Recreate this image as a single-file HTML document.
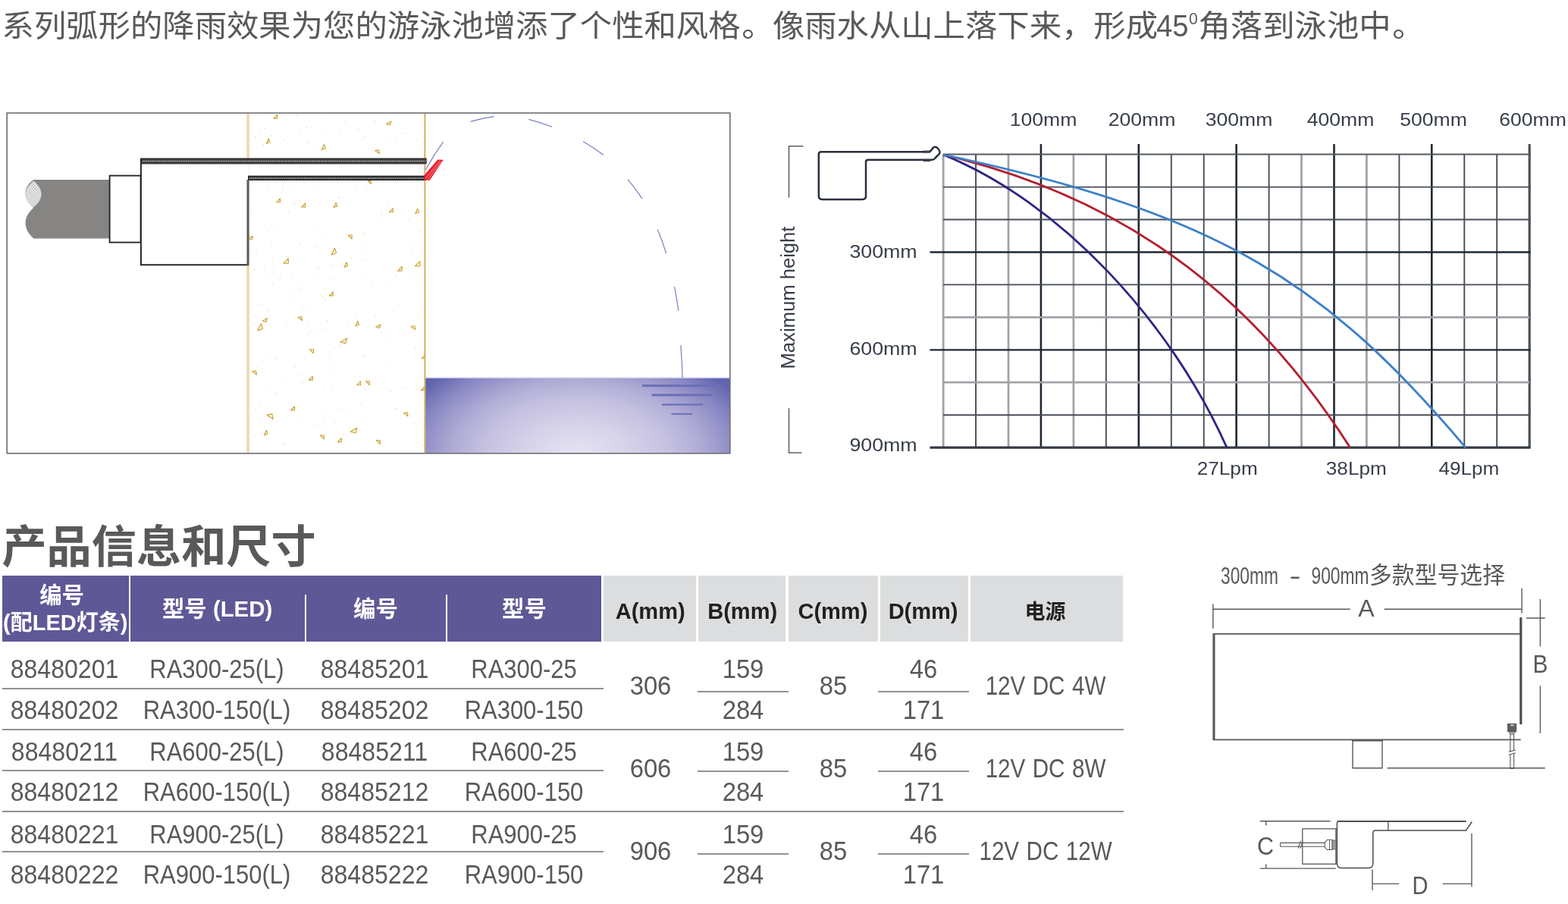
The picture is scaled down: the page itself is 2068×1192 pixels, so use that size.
<!DOCTYPE html>
<html lang="zh-CN">
<head>
<meta charset="utf-8">
<title>产品信息和尺寸</title>
<style>
html,body{margin:0;padding:0;background:#fff;}
body{width:2068px;height:1192px;position:relative;overflow:hidden;font-family:"Liberation Sans","Noto Sans CJK SC",sans-serif;color:#58595b;}
.abs{position:absolute;white-space:nowrap;}
#intro{left:2.6px;top:3.8px;font-size:42.35px;line-height:62px;transform:scaleY(0.945);transform-origin:0 50%;}
#intro .n{display:inline-block;transform:scaleX(0.905);transform-origin:0 50%;margin-left:-2.4px;margin-right:-4.6px;}
#intro .p{position:relative;left:1.7px;}
#intro sup{font-size:24px;line-height:0;vertical-align:baseline;position:relative;top:-16.6px;margin:0 -0.6px 0 0.6px;display:inline-block;transform:scaleX(0.88);transform-origin:0 50%;}
#title{left:2.4px;top:679.5px;font-size:59.2px;line-height:84px;font-weight:bold;}
#art{position:absolute;left:0;top:0;width:2068px;height:1192px;}
.bg{position:absolute;top:759px;height:87px;}
.hp{background:#5f5896;}
.hg{background:#dcddde;}
.ht{position:absolute;height:40px;line-height:40px;width:240px;text-align:center;font-weight:bold;white-space:nowrap;}
.ht.w{color:#fff;font-size:29.4px;}
.ht.k{color:#231f20;font-size:29px;}
.sep{position:absolute;background:#fff;width:2px;}
.c{position:absolute;height:40px;line-height:40px;width:240px;font-size:34.3px;text-align:center;white-space:nowrap;transform:scaleX(0.935);}
.c.m{transform:scaleX(0.903);}
.c.s{transform:scaleX(0.955);}
.c.p{transform:scaleX(0.862);word-spacing:1.5px;}
.ln{position:absolute;background:#8f9194;}
</style>
</head>
<body>
<div id="intro" class="abs">系列弧形的降雨效果为您的游泳池增添了个性和风格<span class="p">。</span>像雨水从山上落下来，形成<span class="n">45</span><sup>0</sup>角落到泳池中<span class="p">。</span></div>
<svg id="art" viewBox="0 0 2068 1192" width="2068" height="1192">
<defs>
<radialGradient id="wg" gradientUnits="userSpaceOnUse" cx="761" cy="600" r="249" gradientTransform="translate(761 600) scale(1 0.6) translate(-761 -600)">
<stop offset="0" stop-color="#e6e4f3"/><stop offset="0.267" stop-color="#d6d3ea"/><stop offset="0.5" stop-color="#c4c0e0"/><stop offset="0.667" stop-color="#aeaad5"/><stop offset="0.85" stop-color="#8a88c4"/><stop offset="1" stop-color="#6064af"/>
</radialGradient>
<pattern id="ht" width="2.6" height="2.6" patternUnits="userSpaceOnUse" patternTransform="rotate(45)"><rect width="2.6" height="2.6" fill="#f6f6f6"/><rect width="0.9" height="2.6" fill="#c4c4c4"/><rect width="2.6" height="0.9" fill="#c4c4c4"/></pattern>
</defs>
<g id="install">
<rect x="560" y="498" width="403" height="100" fill="url(#wg)"/>
<rect x="560" y="497.2" width="403" height="1.6" fill="#dcdaf0"/>
<path d="M344.4 402.6h.01M474.2 410.4h.01M462.0 327.5h.01M401.0 514.2h.01M354.4 405.2h.01M415.5 394.7h.01M432.9 422.0h.01M365.5 368.6h.01M462.6 354.0h.01M369.1 203.1h.01M371.0 254.2h.01M333.7 520.8h.01M345.1 181.0h.01M342.9 151.1h.01M467.7 362.0h.01M440.0 289.8h.01M413.1 458.1h.01M405.8 250.3h.01M442.9 476.3h.01M510.4 361.1h.01M547.8 313.3h.01M501.3 363.7h.01M429.5 433.9h.01M436.1 481.8h.01M536.4 509.9h.01M478.5 385.3h.01M429.5 538.9h.01M454.6 522.2h.01M446.9 539.4h.01M469.1 496.3h.01M448.7 398.2h.01M531.5 176.3h.01M433.6 163.4h.01M540.5 548.3h.01M358.6 347.7h.01M483.4 341.6h.01M483.0 499.9h.01M426.6 309.7h.01M549.1 201.2h.01M392.7 554.1h.01M460.5 462.7h.01M394.3 506.8h.01M427.5 183.2h.01M475.0 507.7h.01M385.1 199.7h.01M483.6 271.4h.01M556.8 167.4h.01M497.4 396.2h.01M551.3 288.0h.01M555.6 587.9h.01M397.5 355.5h.01M507.2 191.4h.01M336.1 286.4h.01M350.2 577.1h.01M501.9 404.0h.01M486.0 459.5h.01M542.7 550.5h.01M384.3 487.6h.01M476.9 185.5h.01M400.1 403.7h.01M418.8 558.9h.01M450.0 575.0h.01M532.3 464.0h.01M501.4 524.4h.01M524.9 275.9h.01M520.5 278.1h.01M455.7 471.2h.01M557.2 351.2h.01M455.3 259.6h.01M408.6 191.5h.01M414.6 511.2h.01M417.9 482.9h.01M416.5 301.5h.01M510.4 528.6h.01M523.7 539.4h.01M550.8 369.0h.01M525.2 583.6h.01M508.8 250.6h.01M350.3 496.7h.01M508.6 254.5h.01M477.5 286.2h.01M489.6 200.9h.01M399.2 570.9h.01M394.2 291.8h.01M438.9 255.5h.01M531.9 439.0h.01M551.2 289.7h.01M364.2 326.1h.01M497.3 594.9h.01M543.4 483.1h.01M554.6 347.9h.01M350.9 464.8h.01M415.6 560.2h.01M505.0 169.1h.01M436.3 508.5h.01M402.8 273.7h.01M545.9 180.1h.01M538.4 513.6h.01M501.9 261.1h.01M404.9 587.2h.01M555.2 268.9h.01M387.2 260.2h.01M394.9 554.9h.01M405.1 327.3h.01M446.2 254.0h.01M479.3 592.0h.01M332.0 543.9h.01M521.8 557.9h.01M530.1 254.6h.01M506.9 446.8h.01M339.7 476.8h.01M455.4 179.2h.01M511.7 446.5h.01M476.1 191.6h.01M482.6 336.9h.01M377.2 153.6h.01M462.2 313.3h.01M360.5 174.0h.01M476.4 555.9h.01M395.3 382.9h.01M355.7 369.3h.01M399.5 523.6h.01M552.4 365.8h.01M468.9 434.2h.01M536.3 427.1h.01M551.3 514.0h.01M339.7 524.0h.01M414.4 375.1h.01M508.1 354.9h.01M515.0 329.2h.01M360.2 342.6h.01M340.3 434.2h.01M534.1 441.5h.01M497.2 513.7h.01M548.2 558.6h.01M486.8 471.9h.01M445.0 560.4h.01M465.4 425.1h.01M403.4 167.4h.01M485.3 549.5h.01M457.0 409.1h.01M406.1 187.2h.01" fill="none" stroke="#e3c77a" stroke-width="1.5" stroke-linecap="round" opacity="0.3"/>
<path d="M379.7 189.2h.01M346.9 191.4h.01M341.6 533.0h.01M459.1 426.5h.01M485.5 341.3h.01M436.7 561.9h.01M508.0 187.4h.01M357.8 337.1h.01M461.1 540.6h.01M408.2 306.8h.01M345.8 476.4h.01M477.9 592.9h.01M409.8 569.6h.01M387.2 325.0h.01M425.3 310.7h.01M390.6 152.8h.01M452.4 422.4h.01M512.1 325.6h.01M420.5 365.3h.01M416.4 433.3h.01M523.7 592.9h.01M354.2 303.5h.01M527.0 460.8h.01M448.7 555.2h.01M488.2 576.6h.01M514.5 472.8h.01M354.2 360.2h.01M512.8 583.4h.01M469.8 416.2h.01M385.6 412.0h.01M537.6 308.4h.01M393.9 377.1h.01M530.0 570.3h.01M544.3 437.3h.01M363.5 543.9h.01M380.8 574.9h.01M429.0 380.4h.01M435.1 463.9h.01M551.6 197.6h.01M426.9 556.6h.01M469.1 250.0h.01M526.8 352.9h.01M556.7 336.9h.01M447.7 260.3h.01M355.1 515.4h.01M480.0 393.9h.01M334.2 429.3h.01M392.1 152.6h.01M404.4 166.3h.01M407.1 188.3h.01M363.7 412.1h.01M419.4 296.1h.01M412.9 197.7h.01M451.6 259.8h.01M438.6 511.1h.01M498.9 585.2h.01M353.6 247.9h.01M397.0 380.9h.01M376.2 586.3h.01M550.8 351.0h.01M468.0 432.1h.01M444.0 540.9h.01M336.6 152.6h.01M362.9 304.1h.01M358.4 298.4h.01M333.7 480.3h.01M348.3 562.8h.01M402.6 495.1h.01M501.9 437.8h.01M359.9 361.1h.01M367.7 243.5h.01M455.9 352.6h.01M532.4 484.6h.01M444.1 406.6h.01M392.5 261.6h.01M477.6 343.2h.01M359.9 340.2h.01M490.1 527.7h.01M473.2 386.1h.01M331.3 390.2h.01M400.8 160.7h.01M389.4 448.0h.01M382.5 166.2h.01M494.1 312.2h.01M522.8 181.0h.01M383.4 249.5h.01M373.5 250.4h.01M336.4 416.3h.01M342.8 177.8h.01M433.1 467.9h.01M401.8 473.8h.01M331.7 275.5h.01M549.9 243.3h.01M505.5 288.4h.01M404.4 479.1h.01M355.3 469.4h.01M547.5 323.0h.01M506.4 421.2h.01M503.4 498.0h.01M397.7 403.3h.01M388.7 266.8h.01M527.6 350.9h.01M410.4 167.7h.01M363.1 241.8h.01M515.9 515.4h.01M401.9 241.5h.01M421.3 271.7h.01M401.9 403.1h.01M425.0 159.1h.01M477.3 324.9h.01M427.2 516.1h.01M422.8 527.6h.01M372.5 248.1h.01M507.6 439.8h.01M336.3 426.4h.01M360.9 545.1h.01M345.9 307.1h.01M367.0 550.0h.01M536.4 354.1h.01M422.6 434.3h.01M342.0 532.9h.01M388.2 389.4h.01M498.5 316.3h.01M555.8 407.9h.01" fill="none" stroke="#e3c77a" stroke-width="1.5" stroke-linecap="round" opacity="0.45"/>
<path d="M478.8 183.2h.01M352.4 410.3h.01M426.1 391.6h.01M399.0 504.5h.01M450.2 540.4h.01M549.4 185.5h.01M545.4 362.0h.01M395.6 322.7h.01M380.5 278.9h.01M349.3 350.9h.01M428.7 395.8h.01M547.4 458.3h.01M546.7 442.5h.01M343.3 551.3h.01M431.0 199.9h.01M452.8 573.3h.01M336.8 540.1h.01M439.6 459.0h.01M336.2 574.2h.01M503.1 283.6h.01M506.2 388.0h.01M514.0 515.2h.01M377.4 428.7h.01M521.8 364.4h.01M409.1 437.2h.01M358.2 323.9h.01M480.2 306.9h.01M455.5 160.5h.01M337.4 245.7h.01M481.4 513.7h.01M426.5 559.4h.01M370.1 361.7h.01M358.3 178.5h.01M393.9 494.7h.01M431.6 423.6h.01M446.3 261.2h.01M482.6 250.6h.01M494.9 159.7h.01M406.3 428.6h.01M423.2 389.8h.01M472.1 170.2h.01M542.6 430.8h.01M503.4 280.0h.01M554.0 303.5h.01M428.8 175.7h.01M522.0 538.4h.01M551.4 417.5h.01M549.3 583.8h.01M445.1 240.4h.01M480.3 469.6h.01M364.9 473.2h.01M363.9 518.1h.01M533.5 430.2h.01M490.1 376.0h.01M518.6 410.9h.01M350.3 169.6h.01M457.8 430.4h.01M331.8 506.0h.01M480.7 180.4h.01M522.9 185.1h.01M396.2 171.8h.01M406.3 440.9h.01M440.5 367.2h.01M436.8 492.4h.01M335.0 355.2h.01M347.9 191.2h.01M485.7 331.4h.01M415.5 325.8h.01M387.6 269.2h.01M531.7 512.3h.01M421.8 540.7h.01M542.9 333.8h.01M441.2 556.8h.01M395.0 264.8h.01M552.6 266.8h.01M385.2 366.0h.01M359.6 375.0h.01M419.9 563.4h.01M449.6 454.5h.01M419.1 250.5h.01M337.6 334.3h.01M376.0 505.7h.01M355.7 428.5h.01M537.7 176.1h.01M426.4 544.9h.01M337.9 333.8h.01M389.3 483.5h.01M408.0 272.2h.01M340.9 483.2h.01M494.8 416.0h.01M513.2 479.6h.01M526.5 356.0h.01M478.4 365.4h.01M378.3 338.4h.01M361.2 356.1h.01M384.3 390.7h.01M374.0 584.0h.01M375.1 184.4h.01M355.0 416.3h.01M461.0 563.6h.01M476.4 532.2h.01M340.3 401.2h.01M419.5 353.8h.01M463.3 340.5h.01M436.6 349.8h.01M513.1 375.4h.01M540.3 290.6h.01M447.1 175.1h.01M336.9 180.5h.01M510.8 268.6h.01" fill="none" stroke="#e3c77a" stroke-width="1.5" stroke-linecap="round" opacity="0.65"/>
<path d="M-2.5 2.5H2.5V-2.5Z" transform="translate(363.3 153.6) rotate(0)" fill="#fbf5e0" stroke="#c9a233" stroke-width="1.1" stroke-linejoin="round"/>
<path d="M-2.5 2.5H2.5V-2.5Z" transform="translate(352.8 186) rotate(-20)" fill="#fbf5e0" stroke="#c9a233" stroke-width="1.1" stroke-linejoin="round"/>
<path d="M-2.8 2.8H2.8V-2.8Z" transform="translate(425.8 194) rotate(-20)" fill="#fbf5e0" stroke="#c9a233" stroke-width="1.1" stroke-linejoin="round"/>
<path d="M-2.5 2.5H2.5V-2.5Z" transform="translate(367 264.3) rotate(0)" fill="#fbf5e0" stroke="#c9a233" stroke-width="1.1" stroke-linejoin="round"/>
<path d="M-2.5 2.5H2.5V-2.5Z" transform="translate(400.2 270.4) rotate(0)" fill="#fbf5e0" stroke="#c9a233" stroke-width="1.1" stroke-linejoin="round"/>
<path d="M-2.5 2.5H2.5V-2.5Z" transform="translate(441.6 270.4) rotate(-20)" fill="#fbf5e0" stroke="#c9a233" stroke-width="1.1" stroke-linejoin="round"/>
<path d="M-2.5 2.5H2.5V-2.5Z" transform="translate(330.4 313) rotate(15)" fill="#fbf5e0" stroke="#c9a233" stroke-width="1.1" stroke-linejoin="round"/>
<path d="M-2.5 2.5H2.5V-2.5Z" transform="translate(461.6 312.5) rotate(-90)" fill="#fbf5e0" stroke="#c9a233" stroke-width="1.1" stroke-linejoin="round"/>
<path d="M-3.5 3.5H3.5V-3.5Z" transform="translate(439.2 331.5) rotate(-20)" fill="#fbf5e0" stroke="#c9a233" stroke-width="1.1" stroke-linejoin="round"/>
<path d="M-3.2 3.2H3.2V-3.2Z" transform="translate(377.1 344) rotate(0)" fill="#fbf5e0" stroke="#c9a233" stroke-width="1.1" stroke-linejoin="round"/>
<path d="M-2.5 2.5H2.5V-2.5Z" transform="translate(455.5 349) rotate(-20)" fill="#fbf5e0" stroke="#c9a233" stroke-width="1.1" stroke-linejoin="round"/>
<path d="M-2.5 2.5H2.5V-2.5Z" transform="translate(436.7 387.4) rotate(0)" fill="#fbf5e0" stroke="#c9a233" stroke-width="1.1" stroke-linejoin="round"/>
<path d="M-2.5 2.5H2.5V-2.5Z" transform="translate(497.6 200.6) rotate(-100)" fill="#fbf5e0" stroke="#c9a233" stroke-width="1.1" stroke-linejoin="round"/>
<path d="M-2.5 2.5H2.5V-2.5Z" transform="translate(512.8 161.6) rotate(15)" fill="#fbf5e0" stroke="#c9a233" stroke-width="1.1" stroke-linejoin="round"/>
<path d="M-2.5 2.5H2.5V-2.5Z" transform="translate(515.8 277.2) rotate(0)" fill="#fbf5e0" stroke="#c9a233" stroke-width="1.1" stroke-linejoin="round"/>
<path d="M-2.5 2.5H2.5V-2.5Z" transform="translate(549.3 278.4) rotate(-20)" fill="#fbf5e0" stroke="#c9a233" stroke-width="1.1" stroke-linejoin="round"/>
<path d="M-3.2 3.2H3.2V-3.2Z" transform="translate(550.6 347.8) rotate(0)" fill="#fbf5e0" stroke="#c9a233" stroke-width="1.1" stroke-linejoin="round"/>
<path d="M-2.8 2.8H2.8V-2.8Z" transform="translate(527.4 354.3) rotate(0)" fill="#fbf5e0" stroke="#c9a233" stroke-width="1.1" stroke-linejoin="round"/>
<path d="M-2.0 2.0H2.0V-2.0Z" transform="translate(487.3 240.5) rotate(-90)" fill="#fbf5e0" stroke="#c9a233" stroke-width="1.1" stroke-linejoin="round"/>
<path d="M-2.5 2.5H2.5V-2.5Z" transform="translate(349.4 421.3) rotate(15)" fill="#fbf5e0" stroke="#c9a233" stroke-width="1.1" stroke-linejoin="round"/>
<path d="M-3.5 3.5H3.5V-3.5Z" transform="translate(342.1 431.4) rotate(-20)" fill="#fbf5e0" stroke="#c9a233" stroke-width="1.1" stroke-linejoin="round"/>
<path d="M-2.5 2.5H2.5V-2.5Z" transform="translate(395.8 420.5) rotate(-100)" fill="#fbf5e0" stroke="#c9a233" stroke-width="1.1" stroke-linejoin="round"/>
<path d="M-2.5 2.5H2.5V-2.5Z" transform="translate(470.3 426.6) rotate(-20)" fill="#fbf5e0" stroke="#c9a233" stroke-width="1.1" stroke-linejoin="round"/>
<path d="M-2.5 2.5H2.5V-2.5Z" transform="translate(498.9 429.5) rotate(15)" fill="#fbf5e0" stroke="#c9a233" stroke-width="1.1" stroke-linejoin="round"/>
<path d="M-3.5 3.5H3.5V-3.5Z" transform="translate(453.3 448.4) rotate(15)" fill="#fbf5e0" stroke="#c9a233" stroke-width="1.1" stroke-linejoin="round"/>
<path d="M-2.5 2.5H2.5V-2.5Z" transform="translate(411 463.3) rotate(-90)" fill="#fbf5e0" stroke="#c9a233" stroke-width="1.1" stroke-linejoin="round"/>
<path d="M-2.5 2.5H2.5V-2.5Z" transform="translate(335.6 491.9) rotate(-100)" fill="#fbf5e0" stroke="#c9a233" stroke-width="1.1" stroke-linejoin="round"/>
<path d="M-2.5 2.5H2.5V-2.5Z" transform="translate(409.8 498.6) rotate(0)" fill="#fbf5e0" stroke="#c9a233" stroke-width="1.1" stroke-linejoin="round"/>
<path d="M-2.5 2.5H2.5V-2.5Z" transform="translate(473.2 505.2) rotate(0)" fill="#fbf5e0" stroke="#c9a233" stroke-width="1.1" stroke-linejoin="round"/>
<path d="M-2.5 2.5H2.5V-2.5Z" transform="translate(484.8 505.2) rotate(-90)" fill="#fbf5e0" stroke="#c9a233" stroke-width="1.1" stroke-linejoin="round"/>
<path d="M-2.5 2.5H2.5V-2.5Z" transform="translate(386.1 538.5) rotate(0)" fill="#fbf5e0" stroke="#c9a233" stroke-width="1.1" stroke-linejoin="round"/>
<path d="M-3.5 3.5H3.5V-3.5Z" transform="translate(356.1 549.9) rotate(-100)" fill="#fbf5e0" stroke="#c9a233" stroke-width="1.1" stroke-linejoin="round"/>
<path d="M-2.5 2.5H2.5V-2.5Z" transform="translate(349.9 570.5) rotate(-20)" fill="#fbf5e0" stroke="#c9a233" stroke-width="1.1" stroke-linejoin="round"/>
<path d="M-3.5 3.5H3.5V-3.5Z" transform="translate(466.6 566.8) rotate(15)" fill="#fbf5e0" stroke="#c9a233" stroke-width="1.1" stroke-linejoin="round"/>
<path d="M-2.5 2.5H2.5V-2.5Z" transform="translate(424.8 576.5) rotate(-90)" fill="#fbf5e0" stroke="#c9a233" stroke-width="1.1" stroke-linejoin="round"/>
<path d="M-2.5 2.5H2.5V-2.5Z" transform="translate(447.8 580.1) rotate(0)" fill="#fbf5e0" stroke="#c9a233" stroke-width="1.1" stroke-linejoin="round"/>
<path d="M-2.5 2.5H2.5V-2.5Z" transform="translate(498.9 583) rotate(-90)" fill="#fbf5e0" stroke="#c9a233" stroke-width="1.1" stroke-linejoin="round"/>
<path d="M-2.5 2.5H2.5V-2.5Z" transform="translate(544.8 432.6) rotate(-100)" fill="#fbf5e0" stroke="#c9a233" stroke-width="1.1" stroke-linejoin="round"/>
<path d="M-2.0 2.0H2.0V-2.0Z" transform="translate(557.9 470.8) rotate(0)" fill="#fbf5e0" stroke="#c9a233" stroke-width="1.1" stroke-linejoin="round"/>
<path d="M-2.0 2.0H2.0V-2.0Z" transform="translate(557.4 512.4) rotate(0)" fill="#fbf5e0" stroke="#c9a233" stroke-width="1.1" stroke-linejoin="round"/>
<path d="M-2.5 2.5H2.5V-2.5Z" transform="translate(535.1 546.8) rotate(-100)" fill="#fbf5e0" stroke="#c9a233" stroke-width="1.1" stroke-linejoin="round"/>
<rect x="325.3" y="149" width="3.6" height="449" fill="#eadbb0"/>
<rect x="559.4" y="149" width="2" height="449" fill="#d2b15f"/>
<path d="M144.5 237H44.5C38 241 33.6 248 33.6 255C33.6 263 39 269 44 274C39 279 33.6 285 33.6 294C33.6 302 38 309 44.5 314.5H144.5Z" fill="#868583"/>
<path d="M44.5 238.5C38.5 243 33.8 249.5 33.8 256C33.8 263 38.5 269 44 273.5C50 269 54.5 263 54.5 256C54.5 249 50 243 44.5 238.5Z" fill="url(#ht)"/>
<rect x="144.6" y="231.6" width="41" height="88" fill="#fff" stroke="#1f1f1f" stroke-width="1.8"/>
<path d="M185.6 209.5H562.5V216.5H328.5V232H560.5V238H328V349.3H185.6Z" fill="#fff"/>
<rect x="185" y="208.4" width="377.7" height="8" fill="#3a3a3a"/>
<line x1="188" y1="212.4" x2="561" y2="212.4" stroke="#dcdcdc" stroke-width="1.5" stroke-dasharray="1.3 1.1"/>
<rect x="327" y="231.6" width="233.5" height="6.4" fill="#2c2c2c"/>
<line x1="329" y1="235" x2="559" y2="235" stroke="#e6e6e6" stroke-width="1.4" stroke-dasharray="1.3 1.1"/>
<path d="M185.9 209V349.3H327.6" fill="none" stroke="#262626" stroke-width="2"/>
<path d="M327 349.8V237" fill="none" stroke="#5c5c5c" stroke-width="3"/>
<path d="M559.3 231.3L577.3 210.5L584.8 210.8L566.7 237.8L559.3 237.8Z" fill="#e8212e"/>
<path d="M561.6 235.4L580 212M564.4 236.4L582.6 212.4" stroke="#f9b4b7" stroke-width="0.8" fill="none"/>
<path d="M561.5 223.7Q571.8 204.6 584.6 187.2M620.6 160.4Q635.8 155.8 651.5 153.6M697.3 157.3Q713.1 161.3 728.2 167.2M769 186.4Q783.0 194.5 795.8 204.2M828 236.6Q838.3 248.8 847 262.1M867.3 302.7Q873.8 318.0 878.5 333.9M889.5 378.2Q892.7 393.9 894.8 409.8M897.8 455.1Q899.5 476.5 900.2 497.9" fill="none" stroke="#7780c2" stroke-width="1.2"/>
<rect x="847" y="507.1" width="105.7" height="3" fill="#6a6fb7"/>
<rect x="859.6" y="519.4" width="79.8" height="3" fill="#6a6fb7"/>
<rect x="872.9" y="532.4" width="53.9" height="2.2" fill="#6a6fb7"/>
<rect x="885.5" y="544.8" width="27.8" height="2" fill="#6a6fb7"/>
<rect x="9.2" y="149" width="953.6" height="448.8" fill="none" stroke="#6d6e70" stroke-width="1.6"/>
</g>
<g id="chart">
<line x1="1244.1" y1="203.6" x2="1244.1" y2="590.1" stroke="#a1a3a7" stroke-width="2.8"/>
<line x1="1287.0" y1="203.6" x2="1287.0" y2="590.1" stroke="#474c56" stroke-width="1.9"/>
<line x1="1330.0" y1="203.6" x2="1330.0" y2="590.1" stroke="#a1a3a7" stroke-width="2.8"/>
<line x1="1372.9" y1="190" x2="1372.9" y2="590.1" stroke="#1f2733" stroke-width="2.6"/>
<line x1="1415.9" y1="203.6" x2="1415.9" y2="590.1" stroke="#a1a3a7" stroke-width="2.8"/>
<line x1="1458.8" y1="203.6" x2="1458.8" y2="590.1" stroke="#474c56" stroke-width="1.9"/>
<line x1="1501.8" y1="190" x2="1501.8" y2="590.1" stroke="#1f2733" stroke-width="2.6"/>
<line x1="1544.8" y1="203.6" x2="1544.8" y2="590.1" stroke="#474c56" stroke-width="1.9"/>
<line x1="1587.7" y1="203.6" x2="1587.7" y2="590.1" stroke="#474c56" stroke-width="1.9"/>
<line x1="1630.6" y1="190" x2="1630.6" y2="590.1" stroke="#1f2733" stroke-width="2.6"/>
<line x1="1673.6" y1="203.6" x2="1673.6" y2="590.1" stroke="#474c56" stroke-width="1.9"/>
<line x1="1716.5" y1="203.6" x2="1716.5" y2="590.1" stroke="#a1a3a7" stroke-width="2.8"/>
<line x1="1759.5" y1="190" x2="1759.5" y2="590.1" stroke="#1f2733" stroke-width="2.6"/>
<line x1="1802.4" y1="203.6" x2="1802.4" y2="590.1" stroke="#a1a3a7" stroke-width="2.8"/>
<line x1="1845.4" y1="203.6" x2="1845.4" y2="590.1" stroke="#474c56" stroke-width="1.9"/>
<line x1="1888.3" y1="190" x2="1888.3" y2="590.1" stroke="#1f2733" stroke-width="2.6"/>
<line x1="1931.3" y1="203.6" x2="1931.3" y2="590.1" stroke="#474c56" stroke-width="1.9"/>
<line x1="1974.2" y1="203.6" x2="1974.2" y2="590.1" stroke="#474c56" stroke-width="1.9"/>
<line x1="2017.2" y1="190" x2="2017.2" y2="590.1" stroke="#4a505a" stroke-width="3.2"/>
<line x1="1244.1" y1="203.6" x2="2017.2" y2="203.6" stroke="#555960" stroke-width="2"/>
<line x1="1244.1" y1="246.6" x2="2017.2" y2="246.6" stroke="#474c56" stroke-width="1.9"/>
<line x1="1244.1" y1="289.5" x2="2017.2" y2="289.5" stroke="#474c56" stroke-width="1.9"/>
<line x1="1226.4" y1="332.5" x2="2018.5" y2="332.5" stroke="#1f2733" stroke-width="2.3"/>
<line x1="1244.1" y1="375.4" x2="2017.2" y2="375.4" stroke="#474c56" stroke-width="1.9"/>
<line x1="1244.1" y1="418.4" x2="2017.2" y2="418.4" stroke="#a1a3a7" stroke-width="2.8"/>
<line x1="1226.4" y1="461.3" x2="2018.5" y2="461.3" stroke="#1f2733" stroke-width="2.3"/>
<line x1="1244.1" y1="504.2" x2="2017.2" y2="504.2" stroke="#a1a3a7" stroke-width="2.8"/>
<line x1="1244.1" y1="547.2" x2="2017.2" y2="547.2" stroke="#474c56" stroke-width="1.9"/>
<line x1="1226.4" y1="590.1" x2="2018.5" y2="590.1" stroke="#343a44" stroke-width="3.2"/>
<path d="M1244 204C1396.9 265.5 1543.1 422.1 1618.1 590.3" fill="none" stroke="#2d2484" stroke-width="2.8"/>
<path d="M1244 204C1504.5 264.8 1666.5 411 1780.7 590.3" fill="none" stroke="#b21f2d" stroke-width="2.8"/>
<path d="M1244 204C1611.1 281.5 1752.5 376.5 1933.2 590.3" fill="none" stroke="#3c7fca" stroke-width="2.8"/>
<path d="M1217.6 200.3H1083Q1079.8 200.3 1079.8 203.5V258.2Q1079.8 262.9 1084.5 262.9H1137.3Q1142 262.9 1142 258.2V213.6Q1142 210.7 1145 210.7H1226C1229 210.8 1231 211.3 1233 209C1235 206.5 1237 205 1239 202.5C1240.5 200 1239 198 1236.8 195.5C1235 193.5 1232.5 193 1230.5 195C1228.5 197 1228 200 1225 200.3Z" fill="none" stroke="#2a303b" stroke-width="2.5" stroke-linejoin="round"/>
<path d="M1217.6 200H1226.5M1217.6 211.3H1227" fill="none" stroke="#3a3f48" stroke-width="3.2"/>
<path d="M1059.5 192.7H1040.5V260.5" fill="none" stroke="#5a5e66" stroke-width="1.5"/>
<path d="M1040.5 538.3V597H1057.4" fill="none" stroke="#5a5e66" stroke-width="1.5"/>
<text id="tx0" x="1331.7" y="165.7" textLength="88.6" lengthAdjust="spacingAndGlyphs" font-family="&quot;Liberation Sans&quot;, sans-serif" font-size="24.3" fill="#383e49" >100mm</text>
<text id="tx1" x="1461.7" y="165.7" textLength="88.6" lengthAdjust="spacingAndGlyphs" font-family="&quot;Liberation Sans&quot;, sans-serif" font-size="24.3" fill="#383e49" >200mm</text>
<text id="tx2" x="1589.7" y="165.7" textLength="88.6" lengthAdjust="spacingAndGlyphs" font-family="&quot;Liberation Sans&quot;, sans-serif" font-size="24.3" fill="#383e49" >300mm</text>
<text id="tx3" x="1723.7" y="165.7" textLength="88.6" lengthAdjust="spacingAndGlyphs" font-family="&quot;Liberation Sans&quot;, sans-serif" font-size="24.3" fill="#383e49" >400mm</text>
<text id="tx4" x="1846.3" y="165.7" textLength="88.6" lengthAdjust="spacingAndGlyphs" font-family="&quot;Liberation Sans&quot;, sans-serif" font-size="24.3" fill="#383e49" >500mm</text>
<text id="tx5" x="1977.2" y="165.7" textLength="88.6" lengthAdjust="spacingAndGlyphs" font-family="&quot;Liberation Sans&quot;, sans-serif" font-size="24.3" fill="#383e49" >600mm</text>
<text id="ty0" x="1120.4" y="340.2" textLength="89.3" lengthAdjust="spacingAndGlyphs" font-family="&quot;Liberation Sans&quot;, sans-serif" font-size="24.3" fill="#383e49" >300mm</text>
<text id="ty1" x="1120.4" y="467.5" textLength="89.3" lengthAdjust="spacingAndGlyphs" font-family="&quot;Liberation Sans&quot;, sans-serif" font-size="24.3" fill="#383e49" >600mm</text>
<text id="ty2" x="1120.4" y="595" textLength="89.3" lengthAdjust="spacingAndGlyphs" font-family="&quot;Liberation Sans&quot;, sans-serif" font-size="24.3" fill="#383e49" >900mm</text>
<text id="tl0" x="1578.7" y="626.3" textLength="80.0" lengthAdjust="spacingAndGlyphs" font-family="&quot;Liberation Sans&quot;, sans-serif" font-size="24.3" fill="#383e49" >27Lpm</text>
<text id="tl1" x="1748.8" y="626.3" textLength="80.0" lengthAdjust="spacingAndGlyphs" font-family="&quot;Liberation Sans&quot;, sans-serif" font-size="24.3" fill="#383e49" >38Lpm</text>
<text id="tl2" x="1897.4" y="626.3" textLength="80.0" lengthAdjust="spacingAndGlyphs" font-family="&quot;Liberation Sans&quot;, sans-serif" font-size="24.3" fill="#383e49" >49Lpm</text>
<text id="tmax" transform="translate(1047.6 392.5) rotate(-90)" x="-94" y="0" textLength="188" lengthAdjust="spacingAndGlyphs" font-family="&quot;Liberation Sans&quot;, sans-serif" font-size="25" fill="#383e49">Maximum height</text>
</g>
<g id="dims" fill="none" stroke="#58595b" stroke-width="1.4">
<text id="dt1" x="1610.0" y="769.5" textLength="76.0" lengthAdjust="spacingAndGlyphs" font-family="&quot;Liberation Sans&quot;, sans-serif" font-size="32" fill="#58595b" stroke="none">300mm</text>
<text id="dt2" x="1700.5" y="769.5" textLength="15.0" lengthAdjust="spacingAndGlyphs" font-family="&quot;Liberation Sans&quot;, sans-serif" font-size="32" fill="#58595b" stroke="none">-</text>
<text id="dt3" x="1729.5" y="769.5" textLength="76.0" lengthAdjust="spacingAndGlyphs" font-family="&quot;Liberation Sans&quot;, sans-serif" font-size="32" fill="#58595b" stroke="none">900mm</text>
<text id="dt4" x="1806.0" y="769.4" textLength="179.0" lengthAdjust="spacingAndGlyphs" font-family="&quot;Liberation Sans&quot;, &quot;Noto Sans CJK SC&quot;, sans-serif" font-size="31" fill="#58595b" stroke="none">多款型号选择</text>
<path d="M1599.8 796.6V828.7M1599.8 803.2H1780.7M1825.7 803.2H2007.1M2007.1 775.7V808.4"/>
<text id="dA" x="1791.2" y="813.1" textLength="21.4" lengthAdjust="spacingAndGlyphs" font-family="&quot;Liberation Sans&quot;, sans-serif" font-size="31.5" fill="#58595b" stroke="none">A</text>
<path d="M2005.8 835.8H1600.3V975.4H2005.8" stroke-width="1.8"/>
<line x1="1601.5" y1="836" x2="1601.5" y2="975" stroke-width="2"/>
<line x1="2005.8" y1="814.1" x2="2005.8" y2="955.2" stroke-width="3.2" stroke="#4d4d4f"/>
<path d="M2031.4 790V852.2M2031.4 904.5V967M2013 815H2037.7"/>
<text id="dB" x="2021.6" y="887.2" textLength="20.0" lengthAdjust="spacingAndGlyphs" font-family="&quot;Liberation Sans&quot;, sans-serif" font-size="32.5" fill="#58595b" stroke="none">B</text>
<path d="M1784 975.4V1012.7H1823V975.4M1783 976.8H1824" stroke-width="1.4"/>
<line x1="1829.6" y1="1012.7" x2="2037.7" y2="1012.7"/>
<rect x="1988.6" y="954.4" width="11.2" height="10.2" fill="#5c5d5f" stroke="#4d4d4f" stroke-width="0.8"/>
<rect x="1992" y="955.6" width="4.6" height="1.5" fill="#e6e6e6" stroke="none"/>
<path d="M1990.2 965H1998.2L1996.6 968.6H1991.8Z" fill="#b5b6b8" stroke-width="0.8"/>
<path d="M1991.9 968.6V990.6M1996.6 968.6V989.6M1991.9 994.4V1013.5M1996.6 993.4V1013.5M1991.9 1013.5H1996.6M1989.8 991.4L1998.8 989M1989.8 995.2L1998.8 992.8" stroke-width="1.1"/>
<path d="M1661.7 1082.7H1754.6M1661.7 1145.1H1761.7M1669.8 1082.7V1088.5M1669.8 1139.5V1145.1"/>
<text id="dC" x="1658.0" y="1127.4" textLength="22.0" lengthAdjust="spacingAndGlyphs" font-family="&quot;Liberation Sans&quot;, sans-serif" font-size="33" fill="#58595b" stroke="none">C</text>
<rect x="1717.8" y="1092.8" width="45.2" height="46.5" stroke-width="1.3"/>
<path d="M1933.5 1083.1H1766Q1763.4 1083.1 1763.4 1086V1138Q1763.4 1144.6 1769.5 1144.6H1804.5Q1810.8 1144.6 1810.8 1138V1098.5Q1810.8 1095 1814 1095H1933.5L1941.2 1083.5" stroke-width="1.5" stroke="#4d4d4f" stroke-linejoin="round"/>
<path d="M1764 1083H1933.5" stroke-width="2.2" stroke="#4d4d4f"/>
<path d="M1761.6 1092.8V1139.3" stroke-width="1" stroke="#6d6e70"/>
<line x1="1830.9" y1="1082.9" x2="1830.9" y2="1095"/>
<path d="M1688.6 1111.4H1747.3M1688.6 1116.3H1747.3M1688.6 1111.4V1116.3M1712 1118.6L1715.5 1108.6M1714.6 1118.6L1718.1 1108.6" stroke-width="1.1"/>
<path d="M1747.3 1110.8L1750.5 1107.2H1757V1120.5H1750.5L1747.3 1117Z" fill="#fff" stroke-width="1.1"/>
<rect x="1757" y="1108" width="5" height="11.8" fill="#9b9c9e" stroke-width="0.8"/>
<line x1="1753.6" y1="1107.2" x2="1753.6" y2="1120.5" stroke-width="1"/>
<path d="M1810 1146.6V1173.8M1941 1098.9V1169.3M1810 1165.4H1845.2M1902.7 1165.4H1941"/>
<text id="dD" x="1862.6" y="1178.5" textLength="21.0" lengthAdjust="spacingAndGlyphs" font-family="&quot;Liberation Sans&quot;, sans-serif" font-size="32.5" fill="#58595b" stroke="none">D</text>
</g>
</svg>
<div id="title" class="abs">产品信息和尺寸</div>
<div class="bg hp" style="left:3px;width:790.3px;"></div>
<div class="bg hg" style="left:796.2px;width:122.0px;"></div>
<div class="bg hg" style="left:921.3px;width:115.2px;"></div>
<div class="bg hg" style="left:1039.6px;width:118.3px;"></div>
<div class="bg hg" style="left:1160.9px;width:116.0px;"></div>
<div class="bg hg" style="left:1280.2px;width:201.0px;"></div>
<div class="sep" style="left:169.6px;top:759px;height:87px;"></div>
<div class="sep" style="left:402.4px;top:784.4px;height:61.6px;"></div>
<div class="sep" style="left:587.8px;top:784.4px;height:61.6px;"></div>
<div id="h1a" class="ht w" style="left:-38.4px;top:764.8px;">编号</div>
<div id="h1b" class="ht w" style="left:-33.8px;top:801.4px;font-size:29px;">(配LED灯条)</div>
<div id="h2" class="ht w" style="left:166.6px;top:783.3px;">型号 (LED)</div>
<div id="h3" class="ht w" style="left:375.4px;top:783.3px;">编号</div>
<div id="h4" class="ht w" style="left:571.4px;top:783.3px;">型号</div>
<div id="hA" class="ht k" style="left:737.7px;top:785.6px;">A(mm)</div>
<div id="hB" class="ht k" style="left:859.2px;top:785.6px;">B(mm)</div>
<div id="hC" class="ht k" style="left:978.4px;top:785.6px;">C(mm)</div>
<div id="hD" class="ht k" style="left:1097.6px;top:785.6px;">D(mm)</div>
<div id="hP" class="ht k" style="left:1258.6px;top:787.0px;font-size:27px;">电源</div>
<div id="r0a" class="c " style="left:-35.5px;top:861.8px;">88480201</div>
<div id="r0b" class="c m" style="left:166.0px;top:861.8px;">RA300-25(L)</div>
<div id="r0c" class="c " style="left:374.0px;top:861.8px;">88485201</div>
<div id="r0d" class="c m" style="left:570.5px;top:861.8px;">RA300-25</div>
<div id="r0e" class="c s" style="left:859.5px;top:861.8px;">159</div>
<div id="r0f" class="c s" style="left:1097.5px;top:861.8px;">46</div>
<div id="r1a" class="c " style="left:-35.5px;top:915.8px;">88480202</div>
<div id="r1b" class="c m" style="left:166.0px;top:915.8px;">RA300-150(L)</div>
<div id="r1c" class="c " style="left:374.0px;top:915.8px;">88485202</div>
<div id="r1d" class="c m" style="left:570.5px;top:915.8px;">RA300-150</div>
<div id="r1e" class="c s" style="left:859.5px;top:915.8px;">284</div>
<div id="r1f" class="c s" style="left:1097.5px;top:915.8px;">171</div>
<div id="r2a" class="c " style="left:-35.5px;top:970.6px;">88480211</div>
<div id="r2b" class="c m" style="left:166.0px;top:970.6px;">RA600-25(L)</div>
<div id="r2c" class="c " style="left:374.0px;top:970.6px;">88485211</div>
<div id="r2d" class="c m" style="left:570.5px;top:970.6px;">RA600-25</div>
<div id="r2e" class="c s" style="left:859.5px;top:970.6px;">159</div>
<div id="r2f" class="c s" style="left:1097.5px;top:970.6px;">46</div>
<div id="r3a" class="c " style="left:-35.5px;top:1024.1px;">88480212</div>
<div id="r3b" class="c m" style="left:166.0px;top:1024.1px;">RA600-150(L)</div>
<div id="r3c" class="c " style="left:374.0px;top:1024.1px;">88485212</div>
<div id="r3d" class="c m" style="left:570.5px;top:1024.1px;">RA600-150</div>
<div id="r3e" class="c s" style="left:859.5px;top:1024.1px;">284</div>
<div id="r3f" class="c s" style="left:1097.5px;top:1024.1px;">171</div>
<div id="r4a" class="c " style="left:-35.5px;top:1079.7px;">88480221</div>
<div id="r4b" class="c m" style="left:166.0px;top:1079.7px;">RA900-25(L)</div>
<div id="r4c" class="c " style="left:374.0px;top:1079.7px;">88485221</div>
<div id="r4d" class="c m" style="left:570.5px;top:1079.7px;">RA900-25</div>
<div id="r4e" class="c s" style="left:859.5px;top:1079.7px;">159</div>
<div id="r4f" class="c s" style="left:1097.5px;top:1079.7px;">46</div>
<div id="r5a" class="c " style="left:-35.5px;top:1133.3px;">88480222</div>
<div id="r5b" class="c m" style="left:166.0px;top:1133.3px;">RA900-150(L)</div>
<div id="r5c" class="c " style="left:374.0px;top:1133.3px;">88485222</div>
<div id="r5d" class="c m" style="left:570.5px;top:1133.3px;">RA900-150</div>
<div id="r5e" class="c s" style="left:859.5px;top:1133.3px;">284</div>
<div id="r5f" class="c s" style="left:1097.5px;top:1133.3px;">171</div>
<div id="g0a" class="c s" style="left:738.0px;top:884.3px;">306</div>
<div id="g0b" class="c s" style="left:978.7px;top:884.3px;">85</div>
<div id="g0c" class="c p" style="left:1259.4px;top:884.3px;">12V DC 4W</div>
<div id="g1a" class="c s" style="left:738.0px;top:992.8px;">606</div>
<div id="g1b" class="c s" style="left:978.7px;top:992.8px;">85</div>
<div id="g1c" class="c p" style="left:1259.4px;top:992.8px;">12V DC 8W</div>
<div id="g2a" class="c s" style="left:738.0px;top:1101.7px;">906</div>
<div id="g2b" class="c s" style="left:978.7px;top:1101.7px;">85</div>
<div id="g2c" class="c p" style="left:1259.4px;top:1101.7px;">12V DC 12W</div>
<div class="ln" style="left:3px;top:907px;width:793.0px;height:2px;"></div>
<div class="ln" style="left:3px;top:1015px;width:793.0px;height:2px;"></div>
<div class="ln" style="left:3px;top:1122px;width:793.0px;height:2px;"></div>
<div class="ln" style="left:3px;top:961px;width:1478.8px;height:2px;"></div>
<div class="ln" style="left:3px;top:1069px;width:1478.8px;height:2px;"></div>
<div class="ln" style="left:919.5px;top:911px;width:120.1px;height:2px;"></div>
<div class="ln" style="left:1158.3px;top:911px;width:119.3px;height:2px;"></div>
<div class="ln" style="left:919.5px;top:1016px;width:120.1px;height:2px;"></div>
<div class="ln" style="left:1158.3px;top:1016px;width:119.3px;height:2px;"></div>
<div class="ln" style="left:919.5px;top:1125px;width:120.1px;height:2px;"></div>
<div class="ln" style="left:1158.3px;top:1125px;width:119.3px;height:2px;"></div>
</body>
</html>
